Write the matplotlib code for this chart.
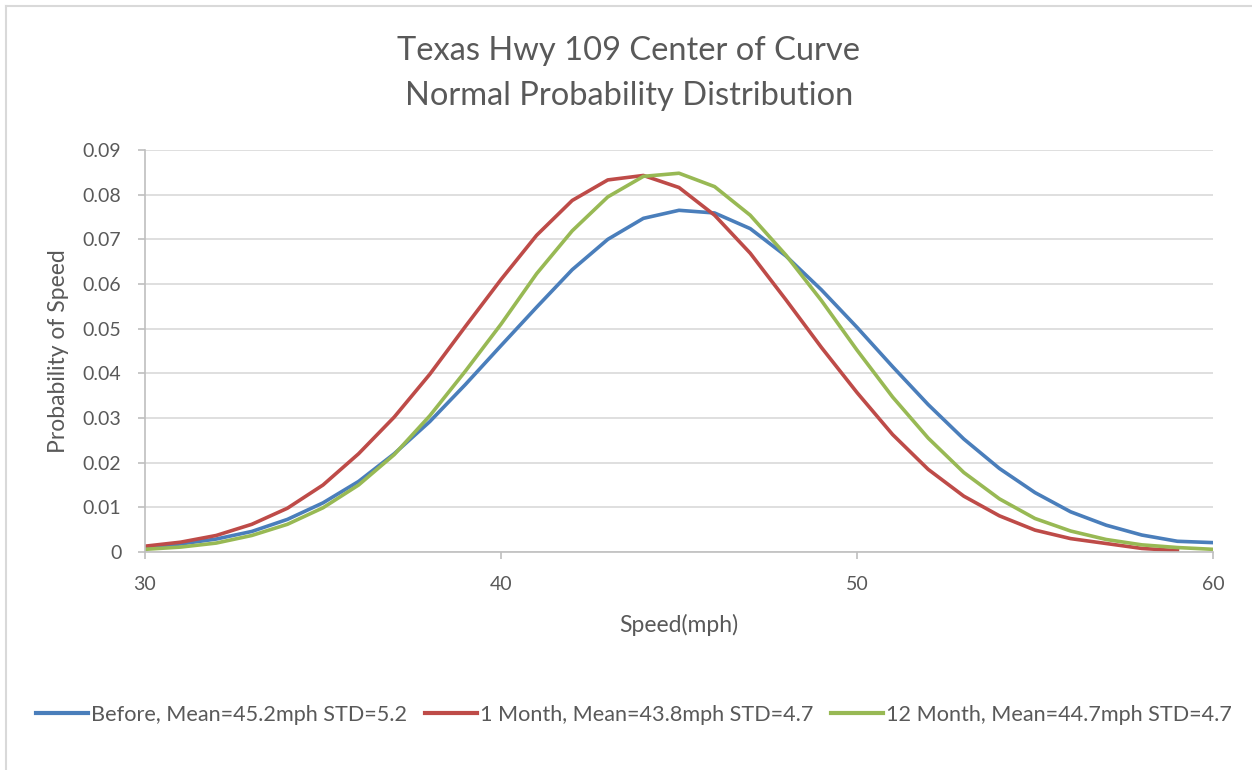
import matplotlib
matplotlib.use("Agg")
import matplotlib.pyplot as plt
from matplotlib.lines import Line2D

speed = list(range(30, 61))
before = [0.0010, 0.0018, 0.0029, 0.0046, 0.0073, 0.0110, 0.0158, 0.0220, 0.0292, 0.0375,
          0.0462, 0.0548, 0.0632, 0.0700, 0.0747, 0.0765, 0.0759, 0.0724, 0.0663, 0.0587,
          0.0503, 0.0415, 0.0330, 0.0253, 0.0187, 0.0133, 0.0090, 0.0060, 0.0038, 0.0024,
          0.0021]
speed_1m = list(range(30, 60))
month1 = [0.0013, 0.0022, 0.0037, 0.0062, 0.0098, 0.0150, 0.0220, 0.0302, 0.0398, 0.0505,
          0.0610, 0.0709, 0.0787, 0.0833, 0.0843, 0.0816, 0.0754, 0.0669, 0.0565, 0.0458,
          0.0357, 0.0263, 0.0185, 0.0125, 0.0081, 0.0049, 0.0030, 0.0019, 0.0008, 0.0003]
month12 = [0.0006, 0.0011, 0.0020, 0.0037, 0.0062, 0.0099, 0.0150, 0.0218, 0.0305, 0.0405,
           0.0510, 0.0623, 0.0719, 0.0795, 0.0841, 0.0848, 0.0818, 0.0754, 0.0665, 0.0563,
           0.0452, 0.0347, 0.0255, 0.0178, 0.0119, 0.0075, 0.0047, 0.0028, 0.0016, 0.0010,
           0.0006]

labels = ["Before, Mean=45.2mph STD=5.2",
          "1 Month, Mean=43.8mph STD=4.7",
          "12 Month, Mean=44.7mph STD=4.7"]
colors = ["#4a7ebb", "#be4b48", "#98b954"]

xticks = [30, 40, 50, 60]
yticks = [0, 0.01, 0.02, 0.03, 0.04, 0.05, 0.06, 0.07, 0.08, 0.09]
ytick_labels = ["0", "0.01", "0.02", "0.03", "0.04", "0.05", "0.06", "0.07", "0.08", "0.09"]

plt.rcParams['font.family'] = ['Lato', 'DejaVu Sans']
txt = "#595959"

W, H = 1252, 770
fig = plt.figure(figsize=(W / 100, H / 100), dpi=100)
ax = fig.add_axes([145 / W, 1 - 552 / H, (1213 - 145) / W, (552 - 150) / H])

ax.plot(speed, before, color=colors[0], lw=2.6, label=labels[0], solid_joinstyle='round')
ax.plot(speed_1m, month1, color=colors[1], lw=2.6, label=labels[1], solid_joinstyle='round')
ax.plot(speed, month12, color=colors[2], lw=2.6, label=labels[2], solid_joinstyle='round')

ax.set_xlim(30, 60)
ax.set_ylim(0, 0.09)
ax.set_xticks(xticks)
ax.set_xticklabels([str(v) for v in xticks])
ax.set_yticks(yticks)
ax.set_yticklabels(ytick_labels)
ax.grid(axis='y', color='#d9d9d9', lw=1.2)
ax.set_axisbelow(True)
for s in ['top', 'right']:
    ax.spines[s].set_visible(False)
for s in ['left', 'bottom']:
    ax.spines[s].set_color('#bfbfbf')
    ax.spines[s].set_linewidth(1.2)
ax.tick_params(axis='both', colors='#bfbfbf', labelcolor=txt, labelsize=14, length=5, width=1.2)
ax.tick_params(axis='y', pad=12)
ax.tick_params(axis='x', pad=12)

ax.set_xlabel("Speed(mph)", fontsize=16.5, color=txt, labelpad=15)
ax.set_ylabel("Probability of Speed", fontsize=16.5, color=txt, labelpad=10)

fig.text(629 / W, 1 - 51 / H, "Texas Hwy 109 Center of Curve", ha='center', va='center',
         fontsize=23.5, color=txt)
fig.text(629 / W, 1 - 96 / H, "Normal Probability Distribution", ha='center', va='center',
         fontsize=23.5, color=txt)

handles = [Line2D([0], [0], color=c, lw=3) for c in colors]
fig.legend(handles, labels, loc='center', bbox_to_anchor=(634 / W, 1 - 715 / H), ncol=3,
           frameon=False, fontsize=15.6, labelcolor=txt, handlelength=2.4, handletextpad=0.15,
           columnspacing=0.8)

# outer chart border (top and left visible)
fig.add_artist(Line2D([6 / W, 1], [1 - 5.5 / H, 1 - 5.5 / H], color='#d9d9d9', lw=1.5,
                      transform=fig.transFigure))
fig.add_artist(Line2D([6 / W, 6 / W], [0, 1 - 5.5 / H], color='#d9d9d9', lw=1.5,
                      transform=fig.transFigure))

fig.savefig("out.png", dpi=100, facecolor='white')
